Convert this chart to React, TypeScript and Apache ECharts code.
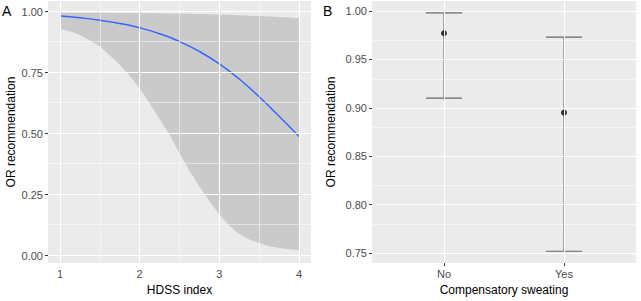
import React, { useEffect, useRef } from "react";
import * as echarts from "echarts";

// Panel A: fitted probability by HDSS index
const hdssX = [1, 1.25, 1.5, 1.75, 2, 2.25, 2.5, 2.75, 3, 3.25, 3.5, 3.75, 4];
const fitY = [0.982, 0.975, 0.965, 0.952, 0.934, 0.91, 0.878, 0.837, 0.786, 0.724, 0.651, 0.571, 0.488];
// Panel A: 95% confidence band
const bandX = [1, 1.125, 1.25, 1.375, 1.5, 1.625, 1.75, 1.875, 2, 2.125, 2.25, 2.375, 2.5, 2.625, 2.75, 2.875, 3, 3.125, 3.25, 3.375, 3.5, 3.625, 3.75, 3.875, 4];
const bandLow = [0.929, 0.92, 0.905, 0.882, 0.857, 0.822, 0.783, 0.737, 0.685, 0.625, 0.56, 0.495, 0.42, 0.348, 0.283, 0.224, 0.168, 0.122, 0.088, 0.066, 0.051, 0.038, 0.031, 0.026, 0.022];
const bandHigh = [0.996, 0.996, 0.996, 0.996, 0.996, 0.995, 0.995, 0.995, 0.995, 0.994, 0.994, 0.993, 0.993, 0.992, 0.991, 0.99, 0.989, 0.988, 0.986, 0.984, 0.982, 0.98, 0.978, 0.976, 0.973];
const aTicksY = [0, 0.25, 0.5, 0.75, 1];
const aMinorY = [0.125, 0.375, 0.625, 0.875];
const aTicksX = [1, 2, 3, 4];
const aMinorX = [1.5, 2.5, 3.5];

// Panel B: OR recommendation by compensatory sweating
const categories = ["No", "Yes"];
const estimate = [0.977, 0.895];
const lowerCI = [0.91, 0.752];
const upperCI = [0.998, 0.973];
const bTicksY = [0.75, 0.8, 0.85, 0.9, 0.95, 1.0];
const bMinorY = [0.775, 0.825, 0.875, 0.925, 0.975];

const FONT = "'Liberation Sans', Arial, Helvetica, sans-serif";
const TICK_COLOR = "#4D4D4D";

function gridLines(xs: number[], ys: number[], minorXs: number[], minorYs: number[], xi: number) {
  const major = { color: "#FFFFFF", width: 1.1, type: "solid" as const };
  const minor = { color: "#FFFFFF", width: 0.5, type: "solid" as const };
  return {
    type: "line",
    xAxisIndex: xi,
    yAxisIndex: xi,
    data: [],
    z: 1,
    silent: true,
    markLine: {
      silent: true,
      symbol: "none",
      animation: false,
      label: { show: false },
      emphasis: { disabled: true },
      data: [
        ...minorXs.map((v) => ({ xAxis: v, lineStyle: minor })),
        ...minorYs.map((v) => ({ yAxis: v, lineStyle: minor })),
        ...xs.map((v) => ({ xAxis: v, lineStyle: major })),
        ...ys.map((v) => ({ yAxis: v, lineStyle: major })),
      ],
    },
  };
}

export default function App() {
  const ref = useRef<HTMLDivElement>(null);
  useEffect(() => {
    if (!ref.current) return;
    const chart = echarts.init(ref.current, null, { renderer: "svg" });
    const labelStyle = { color: TICK_COLOR, fontSize: 11, fontFamily: FONT };
    const nameStyle = { color: "#000000", fontSize: 12, fontFamily: FONT };
    const tick = { show: true, length: 3, lineStyle: { color: "#333333", width: 1 } };

    const option: any = {
      animation: false,
      textStyle: { fontFamily: FONT },
      grid: [
        { left: 48, right: 330, top: 1, bottom: 31, show: true, backgroundColor: "#EBEBEB", borderWidth: 0 },
        { left: 372, right: 5, top: 1, bottom: 31, show: true, backgroundColor: "#EBEBEB", borderWidth: 0 },
      ],
      xAxis: [
        {
          type: "value",
          gridIndex: 0,
          min: 0.85,
          max: 4.15,
          axisLine: { show: false },
          splitLine: { show: false },
          axisTick: { ...tick, customValues: aTicksX },
          axisLabel: { ...labelStyle, margin: 5, customValues: aTicksX, formatter: (v: number) => String(v) },
          name: "HDSS index",
          nameLocation: "middle",
          nameGap: 17,
          nameTextStyle: nameStyle,
        },
        {
          type: "value",
          gridIndex: 1,
          min: 0.4,
          max: 2.6,
          axisLine: { show: false },
          splitLine: { show: false },
          axisTick: { ...tick, customValues: [1, 2] },
          axisLabel: {
            ...labelStyle,
            margin: 5,
            customValues: [1, 2],
            formatter: (v: number) => categories[Math.round(v) - 1] ?? "",
          },
          name: "Compensatory sweating",
          nameLocation: "middle",
          nameGap: 17,
          nameTextStyle: nameStyle,
        },
      ],
      yAxis: [
        {
          type: "value",
          gridIndex: 0,
          min: -0.031,
          max: 1.044,
          axisLine: { show: false },
          splitLine: { show: false },
          axisTick: { ...tick, customValues: aTicksY },
          axisLabel: { ...labelStyle, margin: 5, customValues: aTicksY, formatter: (v: number) => v.toFixed(2) },
          name: "OR recommendation",
          nameLocation: "middle",
          nameGap: 31,
          nameTextStyle: nameStyle,
        },
        {
          type: "value",
          gridIndex: 1,
          min: 0.7397,
          max: 1.0103,
          axisLine: { show: false },
          splitLine: { show: false },
          axisTick: { ...tick, customValues: bTicksY },
          axisLabel: { ...labelStyle, margin: 5, customValues: bTicksY, formatter: (v: number) => v.toFixed(2) },
          name: "OR recommendation",
          nameLocation: "middle",
          nameGap: 35,
          nameTextStyle: nameStyle,
        },
      ],
      graphic: [
        { type: "text", left: 2, top: 4, style: { text: "A", fontSize: 14, fontFamily: FONT, fill: "#000" } },
        { type: "text", left: 323, top: 4, style: { text: "B", fontSize: 14, fontFamily: FONT, fill: "#000" } },
      ],
      series: [
        gridLines(aTicksX, aTicksY, aMinorX, aMinorY, 0),
        gridLines([1, 2], bTicksY, [], bMinorY, 1),
        {
          type: "custom",
          xAxisIndex: 0,
          yAxisIndex: 0,
          z: 2,
          silent: true,
          data: bandX.map((x, i) => [x, bandLow[i], bandHigh[i]]),
          renderItem: (params: any, api: any) => {
            if (params.dataIndex !== 0) return null;
            const pts: number[][] = [];
            bandX.forEach((x, i) => pts.push(api.coord([x, bandHigh[i]])));
            for (let i = bandX.length - 1; i >= 0; i--) pts.push(api.coord([bandX[i], bandLow[i]]));
            return {
              type: "polygon",
              shape: { points: pts },
              style: { fill: "rgba(153,153,153,0.4)", stroke: "none" },
            };
          },
        },
        {
          type: "line",
          xAxisIndex: 0,
          yAxisIndex: 0,
          z: 3,
          silent: true,
          smooth: true,
          showSymbol: false,
          data: hdssX.map((x, i) => [x, fitY[i]]),
          lineStyle: { color: "#3366FF", width: 1.5 },
        },
        {
          type: "custom",
          xAxisIndex: 1,
          yAxisIndex: 1,
          z: 3,
          silent: true,
          data: categories.map((_, i) => [i + 1, lowerCI[i], upperCI[i]]),
          renderItem: (params: any, api: any) => {
            const x = api.value(0);
            const lo = api.coord([x, api.value(1)]);
            const hi = api.coord([x, api.value(2)]);
            const l = api.coord([x - 0.15, api.value(1)]);
            const r = api.coord([x + 0.15, api.value(1)]);
            const style = { stroke: "#666666", lineWidth: 1.1 };
            return {
              type: "group",
              children: [
                { type: "line", shape: { x1: lo[0], y1: lo[1], x2: hi[0], y2: hi[1] }, style },
                { type: "line", shape: { x1: l[0], y1: lo[1], x2: r[0], y2: lo[1] }, style },
                { type: "line", shape: { x1: l[0], y1: hi[1], x2: r[0], y2: hi[1] }, style },
              ],
            };
          },
        },
        {
          type: "scatter",
          xAxisIndex: 1,
          yAxisIndex: 1,
          z: 4,
          silent: true,
          symbol: "circle",
          symbolSize: 6,
          itemStyle: { color: "#000000" },
          data: categories.map((_, i) => [i + 1, estimate[i]]),
        },
      ],
    };
    chart.setOption(option);
    return () => chart.dispose();
  }, []);
  return (
    <div
      ref={ref}
      style={{ position: "fixed", left: 0, top: 0, width: 641, height: 301, background: "#FFFFFF" }}
    />
  );
}
